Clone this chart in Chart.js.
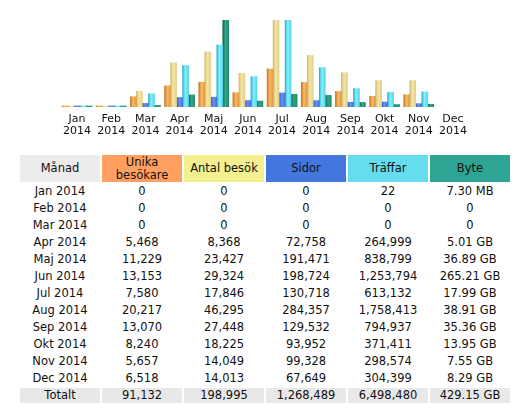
<!DOCTYPE html>
<html>
<head>
<meta charset="utf-8">
<script src="https://cdn.jsdelivr.net/npm/chart.js@4/dist/chart.umd.min.js"></script>
<style>
  html, body { margin: 0; padding: 0; background: #fff; }
  body { width: 525px; height: 411px; position: relative; overflow: hidden; font-family: "DejaVu Sans", Verdana, sans-serif; }
  #chartWrap { position: absolute; left: 0; top: 0; width: 525px; height: 147px; }
  #stats { position: absolute; left: 18px; top: 153px; border-collapse: separate; border-spacing: 2px; font-size: 11.5px; color: #111; }
  #stats td, #stats th { width: 80px; padding: 0; text-align: center; font-weight: normal; line-height: 12.5px; }
  #stats th { height: 27px; }
  #stats td { height: 15px; }
  #stats tr.total td { background: #e8e8e8; }
</style>
</head>
<body>
<div id="chartWrap"><canvas id="monthBars"></canvas></div>
<table id="stats"></table>
<script>
// month labels (chart axis + table rows)
const months = ['Jan', 'Feb', 'Mar', 'Apr', 'Maj', 'Jun', 'Jul', 'Aug', 'Sep', 'Okt', 'Nov', 'Dec'];
const year = '2014';

// table values per month
const uniqueVisitors = [0, 0, 0, 5468, 11229, 13153, 7580, 20217, 13070, 8240, 5657, 6518];
const visits = [0, 0, 0, 8368, 23427, 29324, 17846, 46295, 27448, 18225, 14049, 14013];
const pages = [0, 0, 0, 72758, 191471, 198724, 130718, 284357, 129532, 93952, 99328, 67649];
const hits = [22, 0, 0, 264999, 838799, 1253794, 613132, 1758413, 794937, 371411, 298574, 304399];
const bytesGB = [0.00713, 0, 0, 5.01, 36.89, 265.21, 17.99, 38.91, 35.36, 13.95, 7.55, 8.29];
const totals = ['91,132', '198,995', '1,268,489', '6,498,480', '429.15 GB'];

// the bars in the picture sit one month to the left of the table rows (Dec has none)
const barUnique = [0, 0, 5468, 11229, 13153, 7580, 20217, 13070, 8240, 5657, 6518, null];
const barVisits = [0, 0, 8368, 23427, 29324, 17846, 46295, 27448, 18225, 14049, 14013, null];
const barPages = [0, 0, 72758, 191471, 198724, 130718, 284357, 129532, 93952, 99328, 67649, null];
const barHits = [0, 0, 264999, 838799, 1253794, 613132, 1758413, 794937, 371411, 298574, 304399, null];
const barBytes = [0, 0, 5.01, 36.89, 265.21, 17.99, 38.91, 35.36, 13.95, 7.55, 8.29, null];

// dark edge, light middle, mid right edge
const shades = [
  ['#c9781f', '#f6b968', '#e49a45'],   // unika besökare
  ['#d2bd6c', '#f3e6a6', '#e2d08a'],   // antal besök
  ['#2d52c2', '#6a94f0', '#4470dc'],   // sidor
  ['#2fb3d2', '#86f0fa', '#55d4ea'],   // träffar
  ['#0e6450', '#35a886', '#1d8a6d']    // byte
];
const headColors = ['#ececec', '#ffa060', '#f4f090', '#4477dd', '#66ddee', '#2ea495'];
const headers = ['Månad', 'Unika<br>besökare', 'Antal besök', 'Sidor', 'Träffar', 'Byte'];
const BAR_W = 6;

const fmtInt = n => n.toLocaleString('en-US');
function fmtBytes(gb) {
  if (gb === 0) return '0';
  if (gb < 1) return (gb * 1024).toFixed(2) + ' MB';
  return gb.toFixed(2) + ' GB';
}

// ---- table ----
const table = document.getElementById('stats');
let html = '<tr>' + headers.map((h, i) => `<th style="background:${headColors[i]}">${h}</th>`).join('') + '</tr>';
months.forEach((m, i) => {
  html += `<tr><td>${m} ${year}</td><td>${fmtInt(uniqueVisitors[i])}</td><td>${fmtInt(visits[i])}</td>` +
    `<td>${fmtInt(pages[i])}</td><td>${fmtInt(hits[i])}</td><td>${fmtBytes(bytesGB[i])}</td></tr>`;
});
html += '<tr class="total"><td>Totalt</td>' + totals.map(t => `<td>${t}</td>`).join('') + '</tr>';
table.innerHTML = html;

// ---- bar chart ----
const visitMax = Math.max(...barVisits.filter(v => v !== null));
const hitMax = Math.max(...barHits.filter(v => v !== null));
const byteMax = Math.max(...barBytes.filter(v => v !== null));

// horizontal shading like the little gif bars
function barShade(ctx) {
  const s = shades[ctx.datasetIndex];
  const xs = ctx.chart.scales && ctx.chart.scales.x;
  if (!xs || ctx.type !== 'data') return s[2];
  const left = xs.getPixelForValue(ctx.dataIndex) + (ctx.datasetIndex - 2.5) * BAR_W;
  if (!Number.isFinite(left)) return s[2];
  const g = ctx.chart.ctx.createLinearGradient(left, 0, left + BAR_W, 0);
  g.addColorStop(0, s[0]);
  g.addColorStop(0.45, s[1]);
  g.addColorStop(1, s[2]);
  return g;
}

const barOpts = { barThickness: BAR_W, minBarLength: 1, borderWidth: 0, backgroundColor: barShade };

new Chart(document.getElementById('monthBars'), {
  type: 'bar',
  data: {
    labels: months.map(m => [m, year]),
    datasets: [
      { label: 'Unika besökare', data: barUnique, yAxisID: 'yv', ...barOpts },
      { label: 'Antal besök', data: barVisits, yAxisID: 'yv', ...barOpts },
      { label: 'Sidor', data: barPages, yAxisID: 'yh', ...barOpts },
      { label: 'Träffar', data: barHits, yAxisID: 'yh', ...barOpts },
      { label: 'Byte', data: barBytes, yAxisID: 'yb', ...barOpts }
    ]
  },
  options: {
    responsive: true,
    maintainAspectRatio: false,
    animation: false,
    layout: { padding: { left: 60, right: 55, top: 20, bottom: 4 } },
    plugins: { legend: { display: false }, tooltip: { enabled: false } },
    scales: {
      x: {
        grid: { display: false, drawTicks: false },
        border: { display: false },
        ticks: { color: '#111', padding: 6, maxRotation: 0, autoSkip: false,
                 font: { family: 'DejaVu Sans', size: 11, lineHeight: 12 / 11 } }
      },
      yv: { display: false, min: 0, max: visitMax },
      yh: { display: false, min: 0, max: hitMax },
      yb: { display: false, min: 0, max: byteMax }
    }
  }
});
</script>
</body>
</html>
